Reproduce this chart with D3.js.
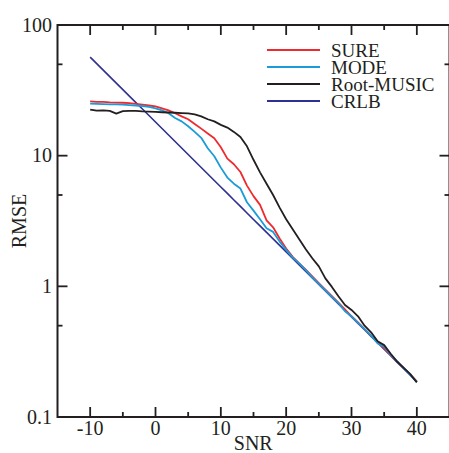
<!DOCTYPE html>
<html>
<head>
<meta charset="utf-8">
<script src="https://cdn.jsdelivr.net/npm/d3@7"></script>
<style>
  body { margin: 0; background: #fff; }
  svg text { font-family: "Liberation Serif", "Times New Roman", serif; fill: #231f20; }
</style>
</head>
<body>
<div id="chart"></div>
<script>
// SNR grid (dB)
const snr = d3.range(-10, 41)

const sure = [26, 25.8, 25.8, 25.6, 25.5, 25.4, 25.2, 24.9, 24.6, 24.2,
  23.8, 23, 22.2, 21.1, 20, 19, 17.5, 16.1, 14.8, 13.6,
  11.6, 9.5, 8.6, 7.5, 5.9, 4.9, 4.2, 3.2, 2.83, 2.32,
  1.95, 1.68, 1.50, 1.34, 1.19, 1.06, 0.945, 0.84, 0.75, 0.665,
  0.59, 0.53, 0.47, 0.42, 0.375, 0.335, 0.298, 0.265, 0.237, 0.211, 0.187]

const mode = [25, 24.9, 24.8, 24.7, 24.7, 24.6, 24.4, 24.2, 24, 23.6,
  23, 22.2, 21.1, 19.4, 18.3, 16.8, 15.2, 13.7, 11.4, 9.9,
  8.1, 6.8, 6.1, 5.6, 4.4, 3.8, 3.26, 2.78, 2.61, 2.2,
  1.9, 1.66, 1.5, 1.33, 1.17, 1.045, 0.93, 0.83, 0.745, 0.645,
  0.59, 0.525, 0.47, 0.42, 0.365, 0.345, 0.30, 0.266, 0.236, 0.21, 0.185]

const rootMusic = [22.5, 22.1, 22.2, 22, 21, 21.9, 22, 22, 21.8, 21.7,
  21.6, 21.5, 21.4, 21.3, 21.2, 21.1, 20.7, 20, 19, 18.3,
  17.2, 16.4, 15.2, 13.9, 11.8, 9.3, 7.45, 6.1, 5, 4.0,
  3.26, 2.73, 2.29, 1.92, 1.64, 1.42, 1.15, 0.99, 0.84, 0.72,
  0.66, 0.59, 0.50, 0.445, 0.38, 0.355, 0.305, 0.265, 0.238, 0.213, 0.184]

const crlb = [56.8, 50.66, 45.18, 40.29, 35.94, 32.05, 28.58, 25.49, 22.74, 20.28,
  18.09, 16.13, 14.39, 12.83, 11.44, 10.21, 9.10, 8.12, 7.24, 6.46,
  5.76, 5.14, 4.58, 4.09, 3.64, 3.25, 2.90, 2.59, 2.31, 2.06,
  1.834, 1.636, 1.459, 1.301, 1.161, 1.035, 0.923, 0.823, 0.734, 0.655,
  0.584, 0.521, 0.465, 0.414, 0.370, 0.330, 0.294, 0.262, 0.234, 0.209, 0.186]

const seriesNames = ["SURE", "MODE", "Root-MUSIC", "CRLB"]
const seriesColors = ["#ee2a2f", "#1b9bd7", "#231f20", "#2e3192"]

const xTicks = [-10, 0, 10, 20, 30, 40]
const xMinor = [-5, 5, 15, 25, 35]
const yTicks = [100, 10, 1, 0.1]
const yTickLabels = ["100", "10", "1", "0.1"]
const yMinor = [50, 5, 0.5]

const width = 449, height = 453
const margin = {left: 57.5, top: 25, right: -0.5, bottom: 36}

const svg = d3.select("#chart").append("svg")
    .attr("width", width)
    .attr("height", height)

const x = d3.scaleLinear().domain([-15, 45]).range([margin.left, width - margin.right])
const y = d3.scaleLog().domain([0.1, 100]).range([height - margin.bottom, margin.top])

const x0 = x.range()[0], x1 = x.range()[1]
const y0 = y.range()[0], y1 = y.range()[1]

// curves, CRLB underneath
const line = d3.line().x((d, i) => x(snr[i])).y(d => y(d))
const allSeries = [crlb, sure, mode, rootMusic]
const allColors = [seriesColors[3], seriesColors[0], seriesColors[1], seriesColors[2]]
allSeries.forEach((s, k) => {
    svg.append("path")
        .attr("d", line(s))
        .attr("fill", "none")
        .attr("stroke", allColors[k])
        .attr("stroke-width", k == 0 ? 1.6 : 1.8)
        .attr("stroke-linejoin", "round")
})

// frame
svg.append("rect")
    .attr("x", x0).attr("y", y1)
    .attr("width", x1 - x0).attr("height", y0 - y1)
    .attr("fill", "none")
    .attr("stroke", "#231f20")
    .attr("stroke-width", 2)

const tickG = svg.append("g").attr("stroke", "#231f20").attr("stroke-width", 1.8)

function xTick(v, len){
    tickG.append("line").attr("x1", x(v)).attr("x2", x(v)).attr("y1", y0).attr("y2", y0 - len)
    tickG.append("line").attr("x1", x(v)).attr("x2", x(v)).attr("y1", y1).attr("y2", y1 + len)
}
function yTick(v, len){
    tickG.append("line").attr("y1", y(v)).attr("y2", y(v)).attr("x1", x0).attr("x2", x0 + len)
    tickG.append("line").attr("y1", y(v)).attr("y2", y(v)).attr("x1", x1).attr("x2", x1 - len)
}
xTicks.forEach(v => xTick(v, 10))
xMinor.forEach(v => xTick(v, 5))
yTicks.forEach(v => yTick(v, 10))
yMinor.forEach(v => yTick(v, 5))

// tick labels
svg.selectAll("text.xl").data(xTicks).enter().append("text")
    .attr("class", "xl")
    .attr("x", d => x(d))
    .attr("y", 435)
    .attr("text-anchor", "middle")
    .style("font-size", "20px")
    .text(d => d)

svg.selectAll("text.yl").data(yTicks).enter().append("text")
    .attr("class", "yl")
    .attr("x", 52)
    .attr("y", d => y(d) + 6.7)
    .attr("text-anchor", "end")
    .style("font-size", "20px")
    .text((d, i) => yTickLabels[i])

svg.append("text")
    .attr("x", (x0 + 449) / 2)
    .attr("y", 450)
    .attr("text-anchor", "middle")
    .style("font-size", "20px")
    .text("SNR")

svg.append("text")
    .attr("transform", "translate(26," + ((y0 + y1) / 2) + ") rotate(-90)")
    .attr("text-anchor", "middle")
    .style("font-size", "20px")
    .text("RMSE")

// legend
const legend = svg.append("g").attr("transform", "translate(267,50)")
seriesNames.forEach((name, i) => {
    legend.append("line")
        .attr("x1", 0).attr("x2", 53)
        .attr("y1", i * 17).attr("y2", i * 17)
        .attr("stroke", seriesColors[i])
        .attr("stroke-width", 1.8)
    legend.append("text")
        .attr("x", 64)
        .attr("y", i * 17 + 6.5)
        .style("font-size", "19px")
        .text(name)
})
</script>
</body>
</html>
